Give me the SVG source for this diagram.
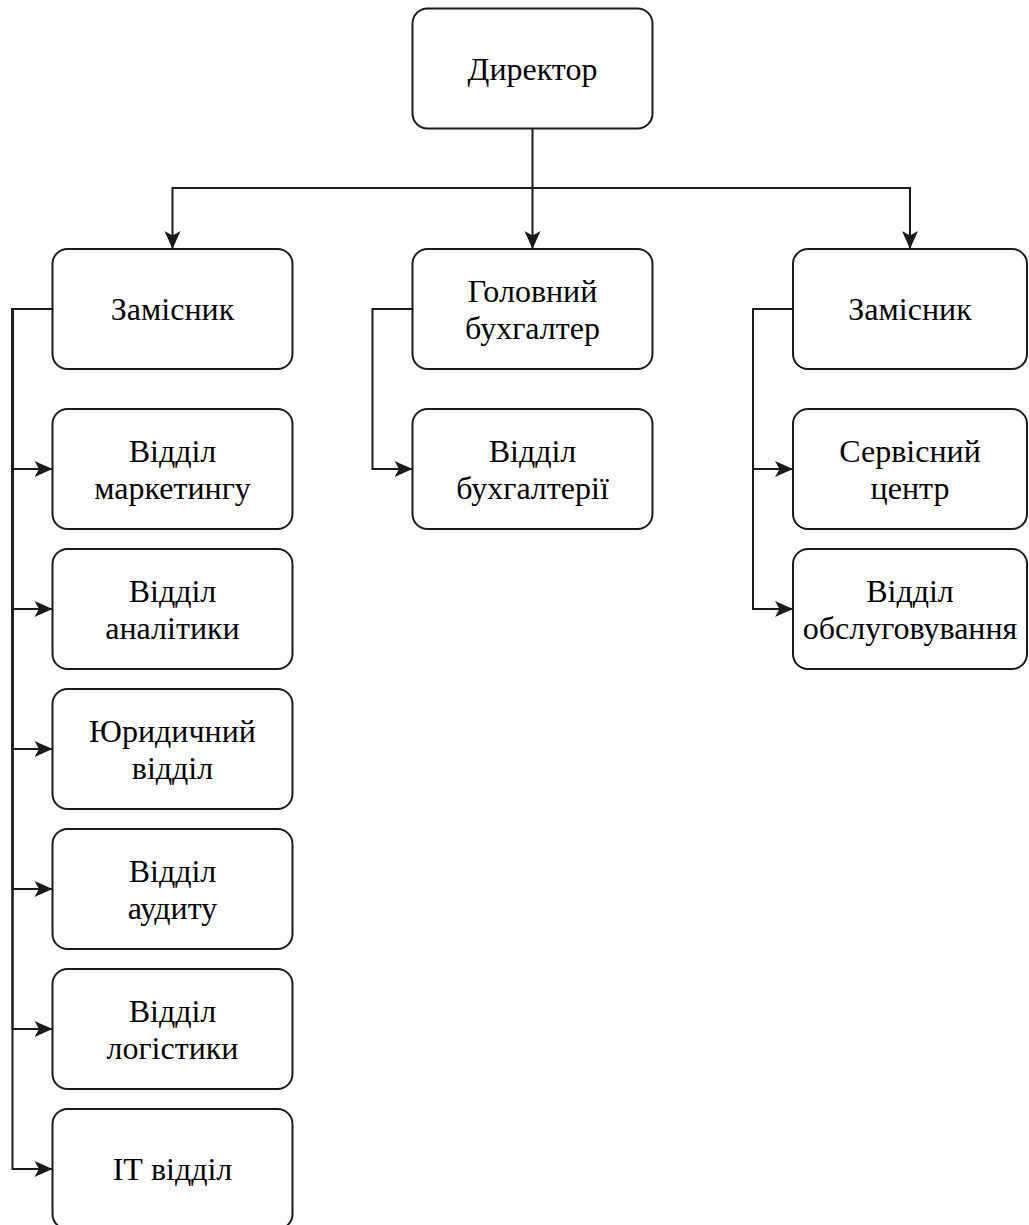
<svg xmlns="http://www.w3.org/2000/svg" width="1029" height="1225" viewBox="0 0 1029 1225">
<style>
.box{fill:#ffffff;stroke:#1a1a1a;stroke-width:2}
.lbl{font-family:'Liberation Serif','DejaVu Serif','Times New Roman',serif;font-size:32px;fill:#000;text-anchor:middle}
.con{fill:none;stroke:#1a1a1a;stroke-width:2;marker-end:url(#arr)}
</style>
<defs>
<marker id="arr" markerUnits="userSpaceOnUse" markerWidth="22" markerHeight="20" viewBox="0 0 22 20" refX="20" refY="10" orient="auto">
<path d="M2,2 L20,10 L2,18 L6.5,10 Z" fill="#1a1a1a"/>
</marker>
</defs>
<rect width="1029" height="1225" fill="#ffffff"/>
<g id="connectors">
<path class="con" d="M532.5,128 V249"/>
<path class="con" d="M532.5,188 H172.5 V249"/>
<path class="con" d="M532.5,188 H910 V249"/>
<path class="con" d="M52.5,309 H12.5 V469 H52.5"/>
<path class="con" d="M52.5,309 H12.5 V609 H52.5"/>
<path class="con" d="M52.5,309 H12.5 V749 H52.5"/>
<path class="con" d="M52.5,309 H12.5 V889 H52.5"/>
<path class="con" d="M52.5,309 H12.5 V1029 H52.5"/>
<path class="con" d="M52.5,309 H12.5 V1169 H52.5"/>
<path class="con" d="M412.5,309 H372.5 V469 H412.5"/>
<path class="con" d="M793,309 H753 V469 H793"/>
<path class="con" d="M793,309 H753 V609 H793"/>
</g>
<g id="director"><rect class="box" x="412.5" y="8.5" width="240" height="120" rx="15"/><text class="lbl" x="532.5" y="80">Директор</text></g>
<g id="deputy-left"><rect class="box" x="52.5" y="249" width="240" height="120" rx="15"/><text class="lbl" x="172.5" y="320">Замісник</text></g>
<g id="chief-accountant"><rect class="box" x="412.5" y="249" width="240" height="120" rx="15"/><text class="lbl" x="532.5" y="302">Головний</text><text class="lbl" x="532.5" y="339">бухгалтер</text></g>
<g id="deputy-right"><rect class="box" x="793" y="249" width="234" height="120" rx="15"/><text class="lbl" x="910" y="320">Замісник</text></g>
<g id="marketing"><rect class="box" x="52.5" y="409" width="240" height="120" rx="15"/><text class="lbl" x="172.5" y="462">Відділ</text><text class="lbl" x="172.5" y="499">маркетингу</text></g>
<g id="analytics"><rect class="box" x="52.5" y="549" width="240" height="120" rx="15"/><text class="lbl" x="172.5" y="602">Відділ</text><text class="lbl" x="172.5" y="639">аналітики</text></g>
<g id="legal"><rect class="box" x="52.5" y="689" width="240" height="120" rx="15"/><text class="lbl" x="172.5" y="742">Юридичний</text><text class="lbl" x="172.5" y="779">відділ</text></g>
<g id="audit"><rect class="box" x="52.5" y="829" width="240" height="120" rx="15"/><text class="lbl" x="172.5" y="882">Відділ</text><text class="lbl" x="172.5" y="919">аудиту</text></g>
<g id="logistics"><rect class="box" x="52.5" y="969" width="240" height="120" rx="15"/><text class="lbl" x="172.5" y="1022">Відділ</text><text class="lbl" x="172.5" y="1059">логістики</text></g>
<g id="it"><rect class="box" x="52.5" y="1109" width="240" height="120" rx="15"/><text class="lbl" x="172.5" y="1180">ІТ відділ</text></g>
<g id="accounting"><rect class="box" x="412.5" y="409" width="240" height="120" rx="15"/><text class="lbl" x="532.5" y="462">Відділ</text><text class="lbl" x="532.5" y="499">бухгалтерії</text></g>
<g id="service-center"><rect class="box" x="793" y="409" width="234" height="120" rx="15"/><text class="lbl" x="910" y="462">Сервісний</text><text class="lbl" x="910" y="499">центр</text></g>
<g id="maintenance"><rect class="box" x="793" y="549" width="234" height="120" rx="15"/><text class="lbl" x="910" y="602">Відділ</text><text class="lbl" x="910" y="639">обслуговування</text></g>
</svg>
